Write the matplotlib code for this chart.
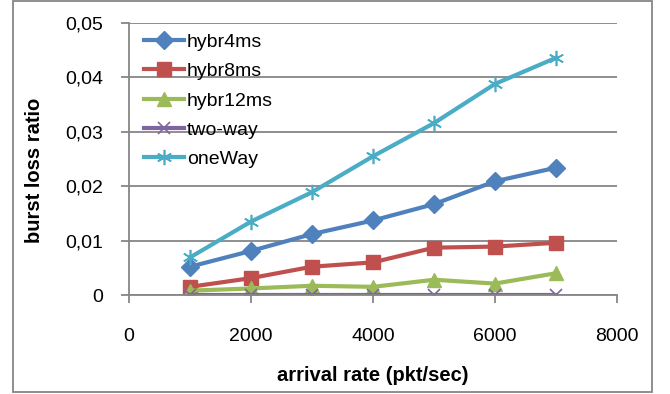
import matplotlib
matplotlib.use('Agg')
import matplotlib.pyplot as plt
from matplotlib.ticker import FuncFormatter

rate = [1000, 2000, 3000, 4000, 5000, 6000, 7000]
hybr4ms = [0.0052, 0.0081, 0.0112, 0.0137, 0.0167, 0.0209, 0.0234]
hybr8ms = [0.0015, 0.0031, 0.0052, 0.0060, 0.0087, 0.0089, 0.0096]
hybr12ms = [0.0008, 0.0012, 0.0017, 0.0015, 0.0028, 0.0021, 0.0040]
two_way = [0, 0, 0, 0, 0, 0, 0]
one_way = [0.0069, 0.0135, 0.0189, 0.0255, 0.0316, 0.0388, 0.0436]

plt.rcParams['font.family'] = ['Liberation Sans', 'DejaVu Sans']

fig = plt.figure(figsize=(6.7, 3.94), dpi=100)
ax = fig.add_axes([129 / 670, 1 - 295 / 394, 488 / 670, 272 / 394])

lw = 3
ax.plot(rate, hybr4ms, c='#4F81BD', lw=lw, marker='D', ms=9, label='hybr4ms')
ax.plot(rate, hybr8ms, c='#C0504D', lw=lw, marker='s', ms=10, label='hybr8ms')
ax.plot(rate, hybr12ms, c='#9BBB59', lw=lw, marker='^', ms=10, label='hybr12ms')
ax.plot(rate, two_way, c='#8064A2', lw=lw, marker='x', ms=9, mew=1.2, label='two-way')
ax.plot(rate, one_way, c='#4BACC6', lw=lw, marker=(6, 2, 0), ms=11, mew=1.2, label='oneWay')

ax.set_xlim(0, 8000)
ax.set_ylim(0, 0.05)
ax.set_xticks([0, 2000, 4000, 6000, 8000])
ax.set_yticks([0, 0.01, 0.02, 0.03, 0.04, 0.05])
ax.yaxis.set_major_formatter(FuncFormatter(lambda v, p: '0' if v == 0 else ('%.2f' % v).replace('.', ',')))
ax.grid(axis='y', color='#868686', lw=1.3)
ax.set_axisbelow(True)
for s in ['top', 'right']:
    ax.spines[s].set_visible(False)
for s in ['left', 'bottom']:
    ax.spines[s].set_color('#868686')
    ax.spines[s].set_linewidth(1.3)
ax.tick_params(colors='#868686', labelcolor='black', labelsize=14, length=5.5, width=1.3)
ax.tick_params(axis='x', pad=18)
ax.tick_params(axis='y', pad=13)

ax.set_xlabel('arrival rate (pkt/sec)', fontsize=14.5, fontweight='bold')
ax.xaxis.set_label_coords(0.5, -0.262)
ax.set_ylabel('burst loss ratio', fontsize=14.5, fontweight='bold')
ax.yaxis.set_label_coords(-0.175, 0.46)

ax.legend(loc='upper left', bbox_to_anchor=(0.031, 0.962), frameon=False, fontsize=14,
          handlelength=2.06, handletextpad=0.15, labelspacing=0.6,
          borderaxespad=0, borderpad=0)

fig.patches.append(plt.Rectangle((13 / 670, 2 / 394), 639 / 670, 391 / 394, transform=fig.transFigure,
                                 fill=False, ec='#868686', lw=1.3))
fig.savefig('out.png', dpi=100)
